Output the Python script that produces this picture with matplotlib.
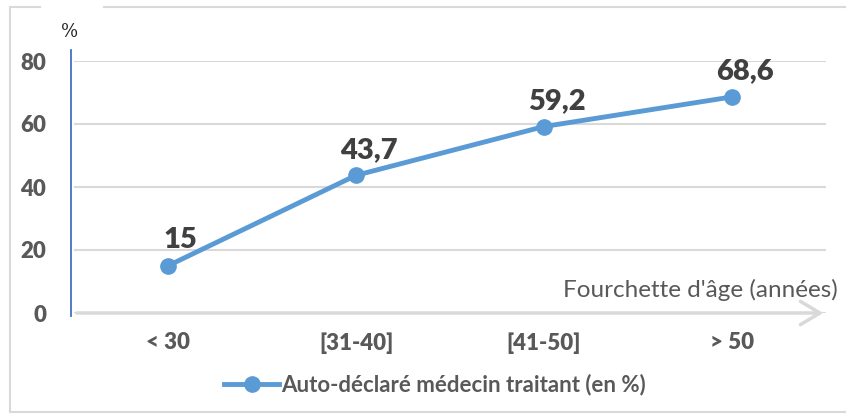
import matplotlib
matplotlib.use("Agg")
import matplotlib.pyplot as plt
from matplotlib.lines import Line2D
from matplotlib.patches import FancyArrowPatch

categories = ["< 30", "[31-40]", "[41-50]", "> 50"]
values = [15, 43.7, 59.2, 68.6]
labels = ["15", "43,7", "59,2", "68,6"]
yticks = [0, 20, 40, 60, 80]
series_name = "Auto-déclaré médecin traitant (en %)"

plt.rcParams['font.family'] = ['Lato', 'DejaVu Sans']

W, H = 846, 416
fig = plt.figure(figsize=(W / 100, H / 100), dpi=100)

def fx(px):
    return px / W

def fy(py):
    return 1 - py / H

gray_txt = "#595959"
grid_c = "#d9d9d9"
blue = "#5b9bd5"

# outer border (with gap at top-left)
for (x0, y0, x1, y1) in [(10, 7, 40, 7), (104, 7, 846, 7), (10, 7, 10, 412), (10, 412, 846, 412)]:
    fig.add_artist(Line2D([fx(x0), fx(x1)], [fy(y0), fy(y1)], color=grid_c, lw=1.5,
                          transform=fig.transFigure))

left, right = 74, 826
ybot, ytop = 313, 61
ax = fig.add_axes([fx(left), fy(ybot), fx(right) - fx(left), fy(ytop) - fy(ybot)])
ax.set_xlim(-0.5, len(categories) - 0.5)
ax.set_ylim(0, 80)
for s in ax.spines.values():
    s.set_visible(False)
ax.set_yticks(yticks)
ax.set_yticklabels([str(t) for t in yticks], fontsize=16, fontweight='heavy', color=gray_txt)
ax.set_xticks(range(len(categories)))
ax.set_xticklabels(categories, fontsize=16, fontweight='heavy', color=gray_txt)
ax.tick_params(axis='both', length=0)
ax.tick_params(axis='y', pad=20)
ax.tick_params(axis='x', pad=14)
ax.grid(axis='y', color=grid_c, lw=1.5)
ax.set_axisbelow(True)

# blue y axis line
ax.add_artist(Line2D([-0.5 - 3 / 188, -0.5 - 3 / 188], [-1, 83.5], color="#4472c4", lw=1.3,
                     clip_on=False, transform=ax.transData))

# x axis arrow
arr = FancyArrowPatch((fx(left), fy(313)), (fx(826), fy(313)), transform=fig.transFigure,
                      arrowstyle="->,head_length=1.0,head_width=0.6", color=grid_c, lw=2.5,
                      mutation_scale=14)
fig.add_artist(arr)

ax.plot(range(len(values)), values, color=blue, lw=3.5, marker='o', markersize=11,
        solid_capstyle='round', zorder=3, clip_on=False)

for i, (v, lab) in enumerate(zip(values, labels)):
    ax.annotate(lab, (i, v), xytext=(9, 9), textcoords='offset points', ha='center', va='bottom',
                fontsize=21, fontweight='heavy', color="#404040")

fig.text(fx(70), fy(32), "%", fontsize=13, color="#262626", ha='center', va='center',
         family=['DejaVu Serif'])
fig.text(fx(838), fy(290), "Fourchette d'âge (années)", fontsize=17.5, color=gray_txt,
         ha='right', va='center')

# legend
leg_handle = Line2D([], [], color=blue, lw=3.5, marker='o', markersize=11)
fig.legend([leg_handle], [series_name], loc='center', bbox_to_anchor=(fx(435), fy(385)),
           frameon=False, prop={'weight': 'bold', 'size': 16}, labelcolor=gray_txt,
           handlelength=2.5, handletextpad=0.1)

fig.savefig("out.png", dpi=100)
